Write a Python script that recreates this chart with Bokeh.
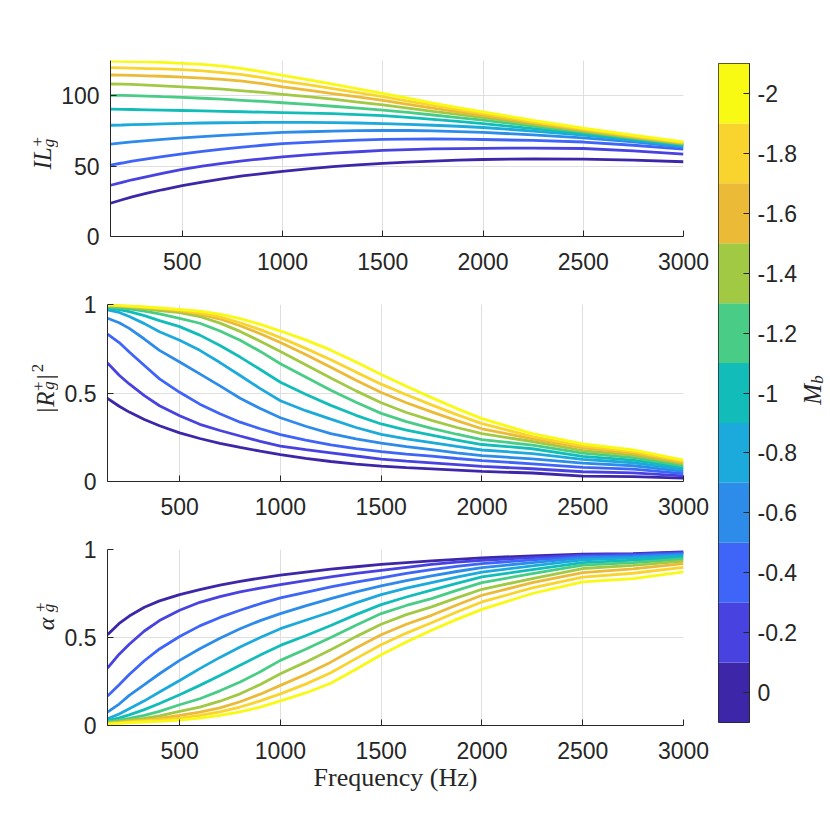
import math
from bokeh.plotting import figure
from bokeh.models import Range1d, FixedTicker
from bokeh.layouts import row, column
from bokeh.embed import file_html
from bokeh.resources import INLINE
from bokeh.core.properties import value

# ---------------- data ----------------
freq = [142, 200, 250, 325, 400, 500, 600, 700, 800, 900, 1000, 1125, 1250, 1375,
        1500, 1625, 1750, 1875, 2000, 2250, 2500, 2750, 3000]
Mb = [0, -0.2, -0.4, -0.6, -0.8, -1, -1.2, -1.4, -1.6, -1.8, -2]
cb_tick_labels = ["0", "-0.2", "-0.4", "-0.6", "-0.8", "-1", "-1.2", "-1.4", "-1.6", "-1.8", "-2"]

IL = [
    [23.6, 26.1, 28.2, 30.8, 33.2, 36.1, 38.7, 40.9, 43.0, 44.7, 46.3, 48.0, 49.6, 50.8, 51.9, 52.8, 53.6, 54.2, 54.7, 55.2, 55.0, 54.2, 53.1],
    [36.4, 38.5, 40.3, 42.6, 44.8, 47.7, 50.0, 51.9, 53.7, 55.2, 56.6, 58.0, 59.2, 60.2, 61.1, 61.7, 62.2, 62.4, 62.6, 62.8, 62.5, 60.8, 58.5],
    [50.7, 52.2, 53.5, 55.2, 56.8, 58.7, 60.4, 62.0, 63.5, 64.8, 65.9, 66.9, 67.8, 68.5, 69.0, 69.2, 69.3, 69.2, 68.9, 68.2, 67.1, 64.8, 62.0],
    [65.6, 66.5, 67.2, 68.1, 69.0, 70.0, 70.9, 71.8, 72.6, 73.3, 73.9, 74.4, 74.9, 75.2, 75.4, 75.3, 75.0, 74.5, 73.9, 72.2, 70.1, 67.2, 63.5],
    [79.0, 79.2, 79.4, 79.7, 80.0, 80.3, 80.6, 80.8, 80.9, 81.0, 81.1, 81.0, 80.9, 80.6, 80.2, 79.7, 79.0, 78.3, 77.4, 74.9, 72.0, 68.5, 64.4],
    [90.4, 90.3, 90.2, 90.0, 89.8, 89.5, 89.2, 88.9, 88.6, 88.3, 88.0, 87.6, 87.2, 86.6, 85.8, 84.6, 83.2, 81.8, 80.2, 76.6, 73.0, 69.2, 65.0],
    [100.3, 100.2, 100.0, 99.7, 99.3, 98.8, 98.2, 97.5, 96.7, 95.9, 95.0, 93.8, 92.5, 91.2, 89.8, 88.1, 86.3, 84.5, 82.6, 78.4, 74.2, 69.8, 65.5],
    [108.3, 108.2, 108.0, 107.5, 107.0, 106.3, 105.5, 104.6, 103.5, 102.3, 101.0, 99.3, 97.5, 95.5, 93.5, 91.2, 88.9, 86.7, 84.5, 79.7, 74.9, 70.3, 65.9],
    [114.7, 114.6, 114.4, 114.1, 113.8, 113.2, 112.5, 111.6, 110.3, 108.5, 106.2, 103.9, 101.5, 99.1, 96.6, 93.9, 91.2, 88.6, 86.1, 80.7, 75.6, 70.8, 66.3],
    [119.9, 119.8, 119.6, 119.3, 119.0, 118.5, 117.6, 116.4, 114.9, 112.8, 110.4, 107.8, 105.0, 102.2, 99.3, 96.2, 93.1, 90.1, 87.3, 81.5, 76.3, 71.3, 66.7],
    [124.5, 124.4, 124.2, 124.0, 123.7, 123.0, 122.2, 121.0, 119.2, 117.0, 114.5, 111.4, 108.2, 104.9, 101.6, 98.2, 94.8, 91.6, 88.5, 82.5, 77.0, 72.0, 67.2],
]

R2 = [
    [0.470, 0.425, 0.392, 0.350, 0.315, 0.275, 0.243, 0.216, 0.193, 0.171, 0.152, 0.131, 0.113, 0.098, 0.087, 0.078, 0.071, 0.064, 0.057, 0.048, 0.030, 0.027, 0.019],
    [0.669, 0.600, 0.551, 0.485, 0.428, 0.371, 0.323, 0.288, 0.257, 0.227, 0.200, 0.180, 0.162, 0.144, 0.127, 0.115, 0.105, 0.095, 0.085, 0.072, 0.055, 0.049, 0.032],
    [0.833, 0.785, 0.732, 0.655, 0.580, 0.504, 0.437, 0.383, 0.335, 0.298, 0.265, 0.234, 0.207, 0.186, 0.169, 0.155, 0.143, 0.130, 0.118, 0.100, 0.080, 0.070, 0.045],
    [0.922, 0.897, 0.865, 0.805, 0.741, 0.675, 0.608, 0.540, 0.470, 0.412, 0.360, 0.312, 0.270, 0.241, 0.217, 0.197, 0.180, 0.162, 0.146, 0.128, 0.104, 0.089, 0.057],
    [0.970, 0.955, 0.932, 0.892, 0.846, 0.798, 0.741, 0.672, 0.599, 0.525, 0.456, 0.400, 0.352, 0.305, 0.266, 0.241, 0.220, 0.198, 0.178, 0.158, 0.125, 0.106, 0.068],
    [0.979, 0.971, 0.960, 0.937, 0.909, 0.875, 0.827, 0.768, 0.703, 0.633, 0.561, 0.493, 0.430, 0.374, 0.325, 0.290, 0.262, 0.234, 0.209, 0.185, 0.142, 0.121, 0.080],
    [0.985, 0.981, 0.975, 0.962, 0.947, 0.922, 0.894, 0.850, 0.798, 0.735, 0.665, 0.590, 0.515, 0.448, 0.385, 0.338, 0.300, 0.267, 0.237, 0.205, 0.160, 0.135, 0.089],
    [0.993, 0.990, 0.985, 0.976, 0.966, 0.954, 0.932, 0.895, 0.848, 0.793, 0.735, 0.660, 0.585, 0.512, 0.445, 0.390, 0.345, 0.305, 0.270, 0.226, 0.175, 0.148, 0.099],
    [0.995, 0.992, 0.988, 0.982, 0.975, 0.962, 0.945, 0.918, 0.880, 0.835, 0.785, 0.717, 0.645, 0.572, 0.503, 0.445, 0.393, 0.344, 0.298, 0.241, 0.190, 0.159, 0.106],
    [0.997, 0.994, 0.990, 0.985, 0.978, 0.968, 0.952, 0.930, 0.897, 0.858, 0.813, 0.752, 0.688, 0.618, 0.550, 0.490, 0.433, 0.378, 0.327, 0.254, 0.200, 0.169, 0.114],
    [0.998, 0.996, 0.992, 0.987, 0.981, 0.973, 0.962, 0.945, 0.920, 0.888, 0.850, 0.800, 0.742, 0.675, 0.605, 0.538, 0.474, 0.412, 0.355, 0.270, 0.213, 0.178, 0.121],
]

alpha = [
    [0.516, 0.580, 0.622, 0.672, 0.708, 0.744, 0.772, 0.797, 0.819, 0.838, 0.854, 0.872, 0.888, 0.902, 0.915, 0.926, 0.935, 0.944, 0.952, 0.964, 0.973, 0.977, 0.987],
    [0.326, 0.405, 0.462, 0.537, 0.596, 0.655, 0.700, 0.732, 0.759, 0.781, 0.800, 0.823, 0.844, 0.864, 0.882, 0.899, 0.915, 0.928, 0.939, 0.954, 0.968, 0.973, 0.983],
    [0.167, 0.232, 0.290, 0.368, 0.435, 0.506, 0.566, 0.614, 0.655, 0.692, 0.725, 0.757, 0.787, 0.814, 0.839, 0.864, 0.886, 0.904, 0.920, 0.941, 0.960, 0.967, 0.978],
    [0.076, 0.122, 0.171, 0.232, 0.294, 0.370, 0.436, 0.496, 0.550, 0.596, 0.636, 0.680, 0.721, 0.759, 0.793, 0.823, 0.850, 0.875, 0.897, 0.926, 0.953, 0.960, 0.972],
    [0.038, 0.065, 0.095, 0.140, 0.190, 0.256, 0.323, 0.387, 0.446, 0.500, 0.550, 0.598, 0.645, 0.697, 0.744, 0.780, 0.812, 0.843, 0.872, 0.907, 0.941, 0.952, 0.965],
    [0.028, 0.043, 0.060, 0.090, 0.125, 0.175, 0.228, 0.284, 0.342, 0.400, 0.455, 0.510, 0.568, 0.630, 0.687, 0.730, 0.769, 0.808, 0.844, 0.886, 0.926, 0.940, 0.956],
    [0.020, 0.030, 0.040, 0.058, 0.080, 0.118, 0.152, 0.197, 0.247, 0.305, 0.370, 0.433, 0.500, 0.570, 0.636, 0.682, 0.721, 0.768, 0.812, 0.863, 0.911, 0.926, 0.946],
    [0.015, 0.022, 0.030, 0.041, 0.055, 0.080, 0.104, 0.138, 0.180, 0.233, 0.294, 0.360, 0.430, 0.505, 0.575, 0.630, 0.674, 0.725, 0.774, 0.835, 0.892, 0.910, 0.934],
    [0.012, 0.018, 0.024, 0.031, 0.040, 0.057, 0.076, 0.100, 0.135, 0.178, 0.228, 0.290, 0.360, 0.440, 0.516, 0.575, 0.626, 0.685, 0.740, 0.812, 0.869, 0.890, 0.920],
    [0.010, 0.015, 0.020, 0.026, 0.032, 0.042, 0.057, 0.078, 0.105, 0.140, 0.180, 0.235, 0.300, 0.380, 0.459, 0.525, 0.584, 0.645, 0.702, 0.782, 0.843, 0.865, 0.898],
    [0.008, 0.012, 0.016, 0.020, 0.024, 0.030, 0.042, 0.058, 0.078, 0.104, 0.140, 0.185, 0.240, 0.320, 0.402, 0.475, 0.541, 0.603, 0.660, 0.750, 0.816, 0.835, 0.873],
]

x_ticks = [500, 1000, 1500, 2000, 2500, 3000]
il_ticks = [0, 50, 100]
unit_ticks = [0, 0.5, 1]
unit_tick_labels = ["0", "0.5", "1"]

# ---------------- style ----------------
parula11 = ["#3E26A8", "#4742E0", "#3E64F8", "#2D8BEA", "#1CA9DC", "#12BDB9",
            "#49CC86", "#A1C944", "#EBBA36", "#F9D42F", "#F9FA14"]
AX = "#262626"
GRID = "#dfdfdf"
SANS = "Liberation Sans"
SERIF = "Liberation Serif"
FS = "23px"
X0, X1 = 142, 3000
LW = 58          # width of the strip that holds the rotated y labels
PW = 652         # width of each panel figure


def make_panel(ys, y_end, yticks, ylabels, h_top, h_frame, h_bot, xlabel=None):
    p = figure(width=PW, height=h_top + h_frame + h_bot, output_backend="svg",
               toolbar_location=None, x_range=Range1d(X0, X1), y_range=Range1d(0, y_end),
               min_border_left=107 - LW, min_border_right=27, min_border_top=h_top,
               min_border_bottom=h_bot)
    p.outline_line_color = None
    for k, curve in enumerate(ys):
        p.line(freq, curve, line_color=parula11[k], line_width=2.8)
    for ax in (p.xaxis[0], p.yaxis[0]):
        ax.axis_line_color = AX
        ax.major_tick_line_color = AX
        ax.major_tick_in = 6
        ax.major_tick_out = 0
        ax.minor_tick_line_color = None
        ax.major_label_text_font = SANS
        ax.major_label_text_font_size = FS
        ax.major_label_text_color = AX
    p.xaxis.ticker = FixedTicker(ticks=x_ticks)
    p.yaxis.ticker = FixedTicker(ticks=yticks)
    if ylabels is not None:
        p.yaxis.major_label_overrides = dict(zip(yticks, ylabels))
    p.xaxis.major_label_standoff = 16
    p.yaxis.major_label_standoff = 11
    p.xgrid.ticker = FixedTicker(ticks=x_ticks)
    p.ygrid.ticker = FixedTicker(ticks=yticks)
    p.xgrid.grid_line_color = GRID
    p.ygrid.grid_line_color = GRID
    if xlabel:
        p.xaxis.axis_label = xlabel
        p.xaxis.axis_label_text_font = SERIF
        p.xaxis.axis_label_text_font_style = "normal"
        p.xaxis.axis_label_text_font_size = "26px"
        p.xaxis.axis_label_text_color = AX
        p.xaxis.axis_label_standoff = 1
    return p


def label_strip(W, H, items):
    f = figure(width=W, height=H, output_backend="svg", toolbar_location=None,
               x_range=Range1d(0, W), y_range=Range1d(0, H), min_border=0,
               x_axis_location=None, y_axis_location=None)
    f.grid.visible = False
    f.outline_line_color = None
    for txt, sx, sy, size, style in items:
        f.text(x=[sx], y=[H - sy], text=[txt], angle=math.pi / 2,
               text_align="center", text_baseline="middle",
               text_font=value(SERIF), text_font_style=style,
               text_font_size=size, text_color=AX)
    return f


H1, H2, H3 = 60 + 176 + 46, 22 + 177 + 46, 22 + 176 + 76
p1 = make_panel(IL, 125, il_ticks, None, 60, 176, 46)
p2 = make_panel(R2, 1, unit_ticks, unit_tick_labels, 22, 177, 46)
p3 = make_panel(alpha, 1, unit_ticks, unit_tick_labels, 22, 176, 76, xlabel="Frequency (Hz)")

l1 = label_strip(LW, H1, [("IL", 42, 157, "25px", "italic"),
                          ("g", 48, 132, "17px", "italic"),
                          ("+", 37, 130, "17px", "normal")])
l2 = label_strip(LW, H2, [("|", 45, 146, "25px", "normal"),
                          ("R", 45, 131, "25px", "italic"),
                          ("+", 38, 113, "17px", "normal"),
                          ("g", 48, 112, "17px", "italic"),
                          ("|", 45, 100, "25px", "normal"),
                          ("2", 37, 88, "17px", "normal")])
l3 = label_strip(LW, H3, [("α", 45, 116, "24px", "italic"),
                          ("+", 40, 90, "17px", "normal"),
                          ("g", 48, 91, "17px", "italic")])

# ---------------- colour bar ----------------
TH = H1 + H2 + H3
cb = figure(width=90, height=TH, output_backend="svg", toolbar_location=None,
            x_range=Range1d(0, 1), y_range=Range1d(0.1, -2.1),
            x_axis_location=None, y_axis_location="right",
            min_border_left=8, min_border_right=49, min_border_top=63,
            min_border_bottom=TH - 63 - 659)
cb.quad(left=0, right=1, bottom=[m + 0.1 for m in Mb], top=[m - 0.1 for m in Mb],
        fill_color=parula11, line_color=None)
cb.grid.visible = False
cb.outline_line_color = AX
cb.outline_line_width = 1
ya = cb.yaxis[0]
ya.ticker = FixedTicker(ticks=Mb)
ya.major_label_overrides = dict(zip(Mb, cb_tick_labels))
ya.axis_line_color = AX
ya.major_tick_line_color = AX
ya.major_tick_in = 6
ya.major_tick_out = 0
ya.minor_tick_line_color = None
ya.major_label_text_font = SANS
ya.major_label_text_font_size = FS
ya.major_label_text_color = AX
ya.major_label_standoff = 8

lcb = label_strip(30, TH, [("M", 12, 402, "25px", "italic"),
                           ("b", 17, 384, "17px", "italic")])

layout = row(column(row(l1, p1), row(l2, p2), row(l3, p3)), cb, lcb)
open("out.html", "w").write(file_html(layout, INLINE))
